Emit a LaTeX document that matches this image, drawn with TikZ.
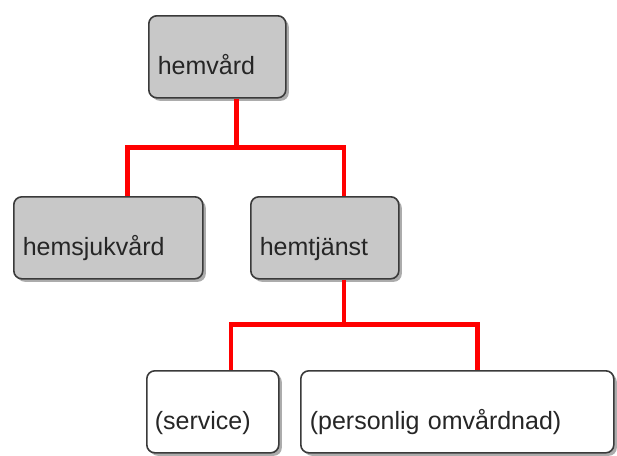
\documentclass[tikz,border=0pt]{standalone}
\usepackage{fontspec}
\setmainfont{Liberation Sans}
\usetikzlibrary{shadows}
\definecolor{boxgray}{HTML}{C8C8C8}
\definecolor{boxline}{HTML}{3A3A3A}
\tikzset{
  unit/.style={draw=boxline, line width=1.6pt, rounded corners=8pt, anchor=north west,
    inner sep=0pt, text height=59pt, text depth=23pt, align=left, font=\fontsize{25}{27}\selectfont,
    text=black!85, drop shadow={shadow xshift=3pt, shadow yshift=-3pt, opacity=0.65}},
  head/.style={unit, fill=boxgray},
  leaf/.style={unit, fill=white},
  link/.style={draw=red, line width=4.5pt}
}
\begin{document}
\begin{tikzpicture}[x=1pt, y=-1pt]%org chart
\useasboundingbox (0,0) rectangle (617,455);
\node[head, text width=137pt] (hemvard) at (148,15) {\hspace*{9pt}hemvård};
\node[head, text width=189pt] (hemsjuk) at (13,196) {\hspace*{9pt}hemsjukvård};
\node[head, text width=148pt] (hemtj) at (250,196) {\hspace*{9pt}hemtjänst};
\node[leaf, text width=132pt] (service) at (146,370) {\hspace*{8pt}(service)};
\node[leaf, text width=313pt] (omvard) at (300,370) {\hspace*{9pt}(personlig omvårdnad)};
\draw[link] ([xshift=19pt]hemvard.south) -- ++(0,49) -| ([xshift=19pt]hemsjuk.north);
\draw[link] ([xshift=19pt]hemvard.south) ++(0,49) -| ([xshift=19pt]hemtj.north);
\draw[link] ([xshift=19pt]hemtj.south) -- ++(0,45) -| ([xshift=18pt]service.north);
\draw[link] ([xshift=19pt]hemtj.south) ++(0,45) -| ([xshift=20pt]omvard.north);
\end{tikzpicture}
\end{document}
